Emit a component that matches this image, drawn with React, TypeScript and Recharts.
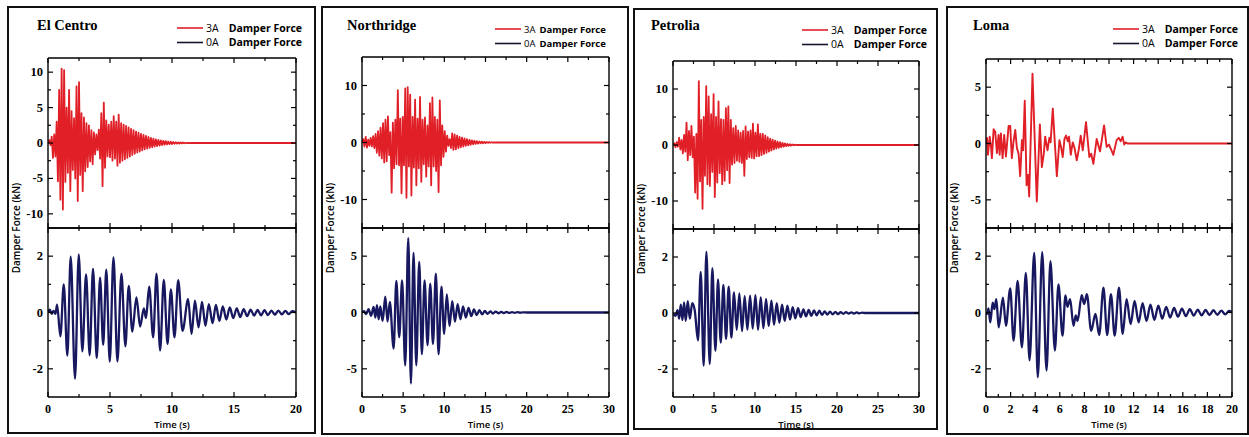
import React from 'react';
import { LineChart, Line, XAxis, YAxis } from 'recharts';

const SERIF = '"Liberation Serif", "Times New Roman", serif';
const SANS = '"Open Sans", "Liberation Sans", Arial, sans-serif';
const RED = '#e01f27';
const NAVY = '#17185f';
const LEGEND_DARK = '#14142e';

// Sampling step (s) of the dense 3A records
const elCentroStep = 0.1;
const northridgeStep = 0.15;
const petroliaStep = 0.15;

// 3A damper force, kN
const elCentro3A = [
  0, 0.4, -0.3, 0.9, -2.1, 1.2, -1.9, 3.0, -5.4, 7.5,
  -8.0, 10.5, -9.4, 10.3, -5.5, 5.0, -4.2, 7.5, -6.8, 4.5,
  -3.8, 3.5, -5.0, 8.0, -8.2, 8.6, -4.5, 4.2, -6.8, 3.6,
  -4.0, 2.8, -3.4, 2.5, -2.6, 1.8, -3.0, 1.5, -1.6, 1.2,
  -1.0, 1.9, -2.2, 4.2, -6.1, 5.7, -3.5, 3.2, -1.9, 2.6,
  -2.0, 3.0, -2.5, 3.8, -2.2, 3.0, -3.2, 4.0, -2.8, 2.8,
  -2.5, 2.6, -2.3, 2.4, -2.1, 2.2, -1.9, 2.0, -1.7, 1.8,
  -1.5, 1.6, -1.35, 1.45, -1.2, 1.3, -1.05, 1.15, -0.9, 1.0,
  -0.8, 0.85, -0.7, 0.72, -0.6, 0.62, -0.5, 0.52, -0.42, 0.44,
  -0.36, 0.37, -0.3, 0.31, -0.25, 0.26, -0.2, 0.21, -0.17, 0.17,
  -0.14, 0.14, -0.11, 0.11, -0.09, 0.09, -0.07, 0.07, -0.05, 0.05,
  -0.04, 0.04, -0.03, 0.03, -0.02, 0.02, 0,
];

const northridge3A = [
  0, 0.6, -0.7, 1.0, -0.9, 0.5, -0.6, 0.8, -0.7, 1.1,
  -1.0, 1.5, -1.8, 2.0, -2.3, 2.6, -2.8, 3.4, -3.5, 4.0,
  -3.3, 4.6, -2.2, 1.8, -8.8, 3.5, -4.5, 4.0, -3.8, 9.2,
  -4.0, 4.2, -8.9, 4.5, -4.0, 9.5, -9.7, 9.7, -4.2, 8.4,
  -9.3, 4.5, -4.4, 7.5, -7.5, 4.2, -4.5, 8.0, -6.9, 4.0,
  -3.8, 4.4, -6.0, 3.0, -4.2, 6.9, -7.5, 7.9, -4.2, 4.5,
  -5.0, 4.0, -8.7, 7.4, -4.0, 3.0, -2.5, 2.0, -1.6, 1.2,
  -0.6, 0.6, -1.0, 1.6, -1.3, 1.4, -1.2, 1.2, -1.0, 1.0,
  -0.85, 0.85, -0.7, 0.7, -0.6, 0.58, -0.48, 0.47, -0.4, 0.38,
  -0.32, 0.3, -0.25, 0.24, -0.2, 0.19, -0.15, 0.15, -0.12, 0.11,
  -0.09, 0.08, -0.06, 0.06, -0.04, 0.04, -0.02, 0.02, 0,
];

const petrolia3A = [
  0, 0.3, -0.4, 0.5, -0.3, 1.3, -0.8, 0.9, -1.5, 1.8,
  -1.2, 4.0, -2.7, 2.5, -1.8, 3.4, -2.2, 1.5, -8.5, 2.0,
  -9.6, 11.4, -6.5, 4.5, -11.4, 5.0, -5.5, 10.5, -7.0, 8.7,
  -7.3, 5.5, -4.8, 9.1, -9.3, 5.0, -6.7, 7.8, -5.0, 4.6,
  -7.0, 4.5, -6.4, 6.6, -4.5, 6.9, -6.8, 4.5, -3.5, 3.0,
  -3.2, 3.4, -2.8, 2.6, -3.0, 2.2, -3.2, 2.5, -5.5, 3.3,
  -2.5, 2.4, -2.2, 2.6, -2.3, 3.8, -2.4, 2.2, -2.0, 3.7,
  -2.0, 2.0, -1.8, 2.0, -1.6, 1.7, -1.4, 1.4, -1.2, 1.15,
  -1.0, 0.95, -0.8, 0.78, -0.65, 0.62, -0.52, 0.5, -0.4, 0.38,
  -0.3, 0.28, -0.22, 0.2, -0.15, 0.14, -0.1, 0.09, -0.06, 0.05,
  -0.03, 0.02, 0,
];

// [time s, force kN]
const loma3A: [number, number][] = [
  [0, 0], [0.08, 0.5], [0.16, -1.0], [0.3, 0.6], [0.4, -0.2], [0.48, -1.3], [0.62, 1.26], [0.75, 1.05],
  [0.89, -0.85], [1.02, 0.75], [1.11, -1.0], [1.21, 0.9], [1.35, -1.3], [1.48, 0.76], [1.62, -1.15],
  [1.84, 1.56], [1.97, 1.56], [2.1, -1.3], [2.24, 0.2], [2.38, 1.2], [2.51, -0.4], [2.65, -0.9],
  [2.78, -2.9], [2.92, 0.3], [3.02, -0.6], [3.15, 3.8], [3.3, -3.7], [3.42, -2.8], [3.51, -4.7],
  [3.78, 6.2], [4.13, -5.15], [4.38, 1.7], [4.54, -2.1], [4.7, -0.9], [4.81, 0.6], [5.0, -0.6],
  [5.15, 0.5], [5.25, 0.1], [5.43, 3.1], [5.76, -2.9], [5.97, 0.3], [6.1, -0.3], [6.24, -1.2],
  [6.38, 0.4], [6.51, 0.7], [6.65, 0.2], [6.75, 0.6], [6.89, -1.0], [7.05, 0.1], [7.2, -0.4],
  [7.38, -1.5], [7.55, -0.5], [7.7, 0.7], [7.87, -0.6], [8.13, 1.9], [8.4, -1.2], [8.55, -0.9],
  [8.73, -1.8], [9.0, 0.4], [9.27, -0.7], [9.6, 1.6], [9.81, -0.3], [10.0, -0.1], [10.2, -0.6],
  [10.35, -1.0], [10.62, 0.3], [10.8, 0.5], [10.95, 0.2], [11.1, 0.6], [11.24, -0.1], [11.35, 0.1],
  [11.5, 0], [20, 0],
];

// 0A damper force, [time s, force kN] at the turning points
const elCentro0A: [number, number][] = [
  [0, 0], [0.15, 0.1], [0.3, -0.05], [0.45, 0.06], [0.6, -0.05], [0.73, 0.28], [1.0, -0.85], [1.27, 1.0],
  [1.56, -1.53], [1.83, 1.98], [2.18, -2.35], [2.48, 2.06], [2.77, -1.38], [3.07, 1.35], [3.36, -1.52],
  [3.63, 1.56], [3.93, -1.62], [4.2, 1.24], [4.45, -1.15], [4.7, 1.52], [4.98, -1.74], [5.28, 1.96],
  [5.6, -1.74], [5.92, 1.38], [6.24, -1.2], [6.51, 0.94], [6.8, -0.68], [7.13, 0.54], [7.43, -0.5],
  [7.73, 0.15], [7.9, -0.2], [8.16, 0.92], [8.48, -0.88], [8.75, 1.38], [9.04, -1.35], [9.34, 1.16],
  [9.64, -1.12], [9.91, 0.82], [10.2, -0.88], [10.5, 1.15], [10.85, -0.65], [11.3, 0.47], [11.58, -0.76],
  [11.85, 0.42], [12.14, -0.53], [12.42, 0.38], [12.7, -0.47], [12.97, 0.3], [13.27, -0.38], [13.54, 0.27],
  [13.82, -0.3], [14.1, 0.22], [14.38, -0.25], [14.66, 0.18], [14.94, -0.2], [15.22, 0.15], [15.5, -0.16],
  [15.78, 0.12], [16.06, -0.13], [16.34, 0.1], [16.62, -0.11], [16.9, 0.09], [17.18, -0.1], [17.46, 0.08],
  [17.74, -0.09], [18.02, 0.07], [18.3, -0.08], [18.58, 0.07], [18.86, -0.07], [19.14, 0.06], [19.42, -0.06],
  [19.7, 0.05], [20, 0],
];

const northridge0A: [number, number][] = [
  [0, 0], [0.25, 0.12], [0.5, -0.15], [0.8, 0.3], [1.1, -0.3], [1.41, 0.5], [1.62, -0.45], [1.82, 0.65],
  [2.02, -0.6], [2.22, 0.55], [2.5, -0.75], [2.83, 1.4], [3.1, -0.8], [3.38, 0.95], [3.84, -3.2],
  [4.17, 2.8], [4.52, -2.2], [4.87, 2.85], [5.25, -4.7], [5.62, 6.6], [5.94, -6.3], [6.26, 5.3],
  [6.59, -4.7], [6.95, 4.5], [7.27, -3.7], [7.6, 2.85], [7.96, -2.9], [8.29, 2.55], [8.62, -2.8],
  [8.97, 3.45], [9.3, -3.7], [9.65, 2.3], [9.98, -1.9], [10.3, 1.6], [10.63, -1.2], [10.96, 1.0],
  [11.29, -0.8], [11.62, 0.75], [11.95, -0.6], [12.28, 0.55], [12.61, -0.45], [12.94, 0.4], [13.27, -0.33],
  [13.6, 0.28], [13.93, -0.24], [14.26, 0.2], [14.59, -0.17], [14.92, 0.14], [15.25, -0.12], [15.58, 0.1],
  [15.91, -0.09], [16.24, 0.08], [16.57, -0.07], [16.9, 0.06], [17.23, -0.05], [17.56, 0.05], [17.89, -0.04],
  [18.22, 0.04], [18.55, -0.03], [18.88, 0.03], [19.21, -0.02], [19.54, 0.02], [20, 0], [30, 0],
];

const petrolia0A: [number, number][] = [
  [0, 0], [0.3, -0.1], [0.55, 0.1], [0.75, -0.2], [0.95, 0.3], [1.15, -0.25], [1.35, 0.38], [1.55, -0.28],
  [1.8, 0.42], [2.05, -0.2], [2.35, 0.35], [2.65, 0.1], [3.05, -0.98], [3.38, 1.47], [3.74, -1.88],
  [4.07, 2.18], [4.48, -1.82], [4.8, 1.6], [5.17, -1.35], [5.49, 1.2], [5.82, -1.06], [6.14, 1.0],
  [6.47, -0.92], [6.79, 0.94], [7.12, -0.88], [7.44, 0.74], [7.77, -0.6], [8.09, 0.7], [8.42, -0.65],
  [8.74, 0.6], [9.07, -0.59], [9.4, 0.62], [9.72, -0.56], [10.05, 0.64], [10.37, -0.6], [10.7, 0.56],
  [11.02, -0.54], [11.35, 0.5], [11.67, -0.47], [12.0, 0.44], [12.32, -0.42], [12.65, 0.35], [12.97, -0.35],
  [13.3, 0.3], [13.62, -0.28], [13.95, 0.26], [14.27, -0.23], [14.6, 0.21], [14.92, -0.19], [15.25, 0.17],
  [15.57, -0.15], [15.9, 0.13], [16.22, -0.12], [16.55, 0.11], [16.87, -0.1], [17.2, 0.09], [17.52, -0.08],
  [17.85, 0.08], [18.17, -0.07], [18.5, 0.06], [18.82, -0.06], [19.15, 0.05], [19.47, -0.05], [19.8, 0.04],
  [20.12, -0.04], [20.45, 0.03], [20.77, -0.03], [21.1, 0.03], [21.42, -0.02], [21.75, 0.02], [22.07, -0.02],
  [22.4, 0.02], [22.72, -0.01], [23.05, 0.01], [23.4, 0], [30, 0],
];

const loma0A: [number, number][] = [
  [0, 0], [0.1, -0.05], [0.2, 0.15], [0.35, -0.35], [0.54, 0.35], [0.68, 0.12], [0.84, 0.47], [1.03, -0.53],
  [1.38, 0.53], [1.62, -0.47], [1.97, 0.86], [2.24, -1.0], [2.57, 1.12], [2.92, -1.24], [3.24, 1.41],
  [3.54, -1.7], [3.92, 2.12], [4.21, -2.3], [4.57, 2.14], [4.92, -2.06], [5.24, 1.82], [5.6, -1.35],
  [5.89, 1.0], [6.22, -0.82], [6.46, 0.61], [6.62, 0.2], [6.84, 0.47], [7.11, -0.47], [7.3, -0.1],
  [7.45, -0.3], [7.78, 0.62], [7.98, 0.3], [8.2, 0.65], [8.55, -0.65], [8.9, -0.05], [9.2, -0.8],
  [9.55, 0.88], [9.85, -0.8], [10.16, 0.65], [10.46, -0.82], [10.81, 0.88], [11.11, -0.76], [11.43, 0.47],
  [11.76, -0.41], [12.08, 0.41], [12.41, -0.35], [12.73, 0.33], [13.05, -0.3], [13.37, 0.28], [13.69, -0.26],
  [14.01, 0.24], [14.33, -0.22], [14.65, 0.2], [14.97, -0.18], [15.29, 0.16], [15.61, -0.15], [15.93, 0.14],
  [16.25, -0.13], [16.57, 0.12], [16.89, -0.11], [17.21, 0.1], [17.53, -0.1], [17.85, 0.09], [18.17, -0.09],
  [18.49, 0.08], [18.81, -0.08], [19.13, 0.07], [19.45, -0.07], [19.77, 0.06], [20, 0],
];

// axis ticks
const time20Ticks = [0, 2.5, 5, 7.5, 10, 12.5, 15, 17.5, 20];
const time30Ticks = [0, 2.5, 5, 7.5, 10, 12.5, 15, 17.5, 20, 22.5, 25, 27.5, 30];
const lomaTimeTicks = [0, 1, 2, 3, 4, 5, 6, 7, 8, 9, 10, 11, 12, 13, 14, 15, 16, 17, 18, 19, 20];
const force12Ticks = [-10, -7.5, -5, -2.5, 0, 2.5, 5, 7.5, 10];
const force15Ticks = [-10, -5, 0, 5, 10];
const force7Ticks = [-5, -2.5, 0, 2.5, 5];
const force3Ticks = [-2, -1, 0, 1, 2];

type Pt = { t: number; v: number };

const sampled = (step: number, values: number[], end: number): Pt[] => {
  const pts = values.map((v, i) => ({ t: Math.round(i * step * 1000) / 1000, v }));
  pts.push({ t: end, v: 0 });
  return pts;
};
const fromPairs = (pairs: [number, number][]): Pt[] => pairs.map(([t, v]) => ({ t, v }));

const isMajor = (v: number, step: number) => Math.abs(v / step - Math.round(v / step)) < 1e-6;

const AXIS_LINE = { stroke: '#000', strokeWidth: 1.4 };

const makeXTick = (inward: number, major: number, labels: boolean) => (p: any) => {
  const { x, y, payload } = p;
  const m = isMajor(payload.value, major);
  return (
    <g>
      <line x1={x} x2={x} y1={y} y2={y + inward * (m ? 5 : 3)} stroke="#000" strokeWidth={1.2} />
      {labels && m && (
        <text x={x} y={y + 15.5} textAnchor="middle" fontFamily={SERIF} fontWeight="bold" fontSize={12} fill="#000">
          {String(payload.value)}
        </text>
      )}
    </g>
  );
};

const makeYTick = (inward: number, major: number, labels: boolean) => (p: any) => {
  const { x, y, payload } = p;
  const m = isMajor(payload.value, major);
  return (
    <g>
      <line x1={x} x2={x + inward * (m ? 5 : 3)} y1={y} y2={y} stroke="#000" strokeWidth={1.2} />
      {labels && m && (
        <text x={x - 5} y={y + 4} textAnchor="end" fontFamily={SERIF} fontWeight="bold" fontSize={12.5} fill="#000">
          {String(payload.value)}
        </text>
      )}
    </g>
  );
};

// room around each plot box; every axis takes 1px of it
const PAD = { top: 6, right: 6, bottom: 26, left: 36 };
const AX = 1;
const MARGIN = { top: PAD.top - AX, right: PAD.right - AX, bottom: PAD.bottom - AX, left: PAD.left - AX };

type SubplotProps = {
  x: number; y: number; w: number; h: number;
  data: Pt[]; color: string; width: number; curve: 'linear' | 'monotone';
  xDomain: [number, number]; xTicks: number[]; xMajor: number; xLabels: boolean;
  yDomain: [number, number]; yTicks: number[]; yMajor: number;
};

function Subplot(p: SubplotProps) {
  return (
    <div style={{ position: 'absolute', left: p.x - PAD.left, top: p.y - PAD.top }}>
      <LineChart width={p.w + PAD.left + PAD.right} height={p.h + PAD.top + PAD.bottom} data={p.data} margin={MARGIN}>
        <XAxis xAxisId="b" orientation="bottom" type="number" dataKey="t" domain={p.xDomain} allowDataOverflow
          ticks={p.xTicks} interval={0} height={AX} tickSize={0} tickMargin={0} tickLine={false}
          axisLine={AXIS_LINE} tick={makeXTick(-1, p.xMajor, p.xLabels)} />
        <XAxis xAxisId="t" orientation="top" type="number" dataKey="t" domain={p.xDomain} allowDataOverflow
          ticks={p.xTicks} interval={0} height={AX} tickSize={0} tickMargin={0} tickLine={false}
          axisLine={AXIS_LINE} tick={makeXTick(1, p.xMajor, false)} />
        <YAxis yAxisId="l" orientation="left" type="number" domain={p.yDomain} allowDataOverflow
          ticks={p.yTicks} interval={0} width={AX} tickSize={0} tickMargin={0} tickLine={false}
          axisLine={AXIS_LINE} tick={makeYTick(1, p.yMajor, true)} />
        <YAxis yAxisId="r" orientation="right" type="number" domain={p.yDomain} allowDataOverflow
          ticks={p.yTicks} interval={0} width={AX} tickSize={0} tickMargin={0} tickLine={false}
          axisLine={AXIS_LINE} tick={makeYTick(-1, p.yMajor, false)} />
        <Line xAxisId="b" yAxisId="l" dataKey="v" type={p.curve} stroke={p.color} strokeWidth={p.width}
          strokeLinejoin="round" dot={false} activeDot={false} isAnimationActive={false} />
      </LineChart>
    </div>
  );
}

type Panel = {
  title: string; frame: [number, number, number, number];
  x0: number; x1: number; yTop: number; yMid: number; yBot: number;
  titleX: number; legendX: number; legendY: number; legendGap: number; legendSize: number;
  xDomain: [number, number]; xTicks: number[]; xMajor: number;
  red: Pt[]; redWidth: number; redDomain: [number, number]; redTicks: number[]; redMajor: number;
  navy: Pt[]; navyDomain: [number, number]; navyTicks: number[]; navyMajor: number;
};

const panels: Panel[] = [
  {
    title: 'El Centro', frame: [8, 7, 315, 433], x0: 48, x1: 296, yTop: 58, yMid: 228, yBot: 397,
    titleX: 37, legendX: 177, legendY: 28, legendGap: 10, legendSize: 10.5,
    xDomain: [0, 20], xTicks: time20Ticks, xMajor: 5,
    red: sampled(elCentroStep, elCentro3A, 20), redWidth: 1.8, redDomain: [-12, 12], redTicks: force12Ticks, redMajor: 5,
    navy: fromPairs(elCentro0A), navyDomain: [-3, 3], navyTicks: force3Ticks, navyMajor: 2,
  },
  {
    title: 'Northridge', frame: [322, 7, 628, 434], x0: 362, x1: 609, yTop: 57, yMid: 228, yBot: 397,
    titleX: 347, legendX: 495, legendY: 29, legendGap: 4, legendSize: 9.5,
    xDomain: [0, 30], xTicks: time30Ticks, xMajor: 5,
    red: sampled(northridgeStep, northridge3A, 30), redWidth: 1.8, redDomain: [-15, 15], redTicks: force15Ticks, redMajor: 10,
    navy: fromPairs(northridge0A), navyDomain: [-7.5, 7.5], navyTicks: force7Ticks, navyMajor: 5,
  },
  {
    title: 'Petrolia', frame: [634, 9, 937, 429], x0: 673, x1: 919, yTop: 61, yMid: 229, yBot: 397,
    titleX: 651, legendX: 802, legendY: 30, legendGap: 10, legendSize: 10.5,
    xDomain: [0, 30], xTicks: time30Ticks, xMajor: 5,
    red: sampled(petroliaStep, petrolia3A, 30), redWidth: 1.8, redDomain: [-15, 15], redTicks: force15Ticks, redMajor: 10,
    navy: fromPairs(petrolia0A), navyDomain: [-3, 3], navyTicks: force3Ticks, navyMajor: 2,
  },
  {
    title: 'Loma', frame: [947, 7, 1248, 434], x0: 986, x1: 1232, yTop: 59, yMid: 228, yBot: 397,
    titleX: 973, legendX: 1113, legendY: 29, legendGap: 10, legendSize: 10.5,
    xDomain: [0, 20], xTicks: lomaTimeTicks, xMajor: 2,
    red: fromPairs(loma3A), redWidth: 1.9, redDomain: [-7.5, 7.5], redTicks: force7Ticks, redMajor: 5,
    navy: fromPairs(loma0A), navyDomain: [-3, 3], navyTicks: force3Ticks, navyMajor: 2,
  },
];

const legendRows = [
  { code: '3A', color: RED },
  { code: '0A', color: LEGEND_DARK },
];

function PanelText({ p }: { p: Panel }) {
  const cx = (p.x0 + p.x1) / 2;
  const lx = p.x0 - 32;
  return (
    <g>
      <rect x={p.frame[0]} y={p.frame[1]} width={p.frame[2] - p.frame[0]} height={p.frame[3] - p.frame[1]}
        fill="none" stroke="#111" strokeWidth={2} />
      <text x={p.titleX} y={30} fontFamily={SERIF} fontWeight="bold" fontSize={14.5} fill="#000">{p.title}</text>
      {legendRows.map((r, i) => {
        const y = p.legendY + i * 14.5;
        return (
          <g key={r.code}>
            <line x1={p.legendX} x2={p.legendX + 26} y1={y} y2={y} stroke={r.color} strokeWidth={1.6} />
            <text x={p.legendX + 29} y={y + 3.8} fontFamily={SANS} fontSize={p.legendSize} fill="#000">
              <tspan>{r.code}</tspan>
              <tspan dx={p.legendGap} fontWeight={700}>Damper Force</tspan>
            </text>
          </g>
        );
      })}
      <text x={cx} y={428} textAnchor="middle" fontFamily={SANS} fontWeight={600} fontSize={9.5} fill="#000">Time (s)</text>
      <text x={lx} y={p.yMid} transform={`rotate(-90 ${lx} ${p.yMid})`} textAnchor="middle" dominantBaseline="central"
        fontFamily={SANS} fontWeight={600} fontSize={10} fill="#000">Damper Force (kN)</text>
    </g>
  );
}

export default function App() {
  return (
    <div style={{ position: 'absolute', left: 0, top: 0, width: 1249, height: 437, background: '#fff', overflow: 'hidden' }}>
      {panels.map((p) => (
        <React.Fragment key={p.title}>
          <Subplot x={p.x0} y={p.yTop} w={p.x1 - p.x0} h={p.yMid - p.yTop} data={p.red} color={RED}
            width={p.redWidth}
            curve="linear" xDomain={p.xDomain} xTicks={p.xTicks} xMajor={p.xMajor} xLabels={false}
            yDomain={p.redDomain} yTicks={p.redTicks} yMajor={p.redMajor} />
          <Subplot x={p.x0} y={p.yMid} w={p.x1 - p.x0} h={p.yBot - p.yMid} data={p.navy} color={NAVY} width={2.3}
            curve="monotone" xDomain={p.xDomain} xTicks={p.xTicks} xMajor={p.xMajor} xLabels={true}
            yDomain={p.navyDomain} yTicks={p.navyTicks} yMajor={p.navyMajor} />
        </React.Fragment>
      ))}
      <svg width={1249} height={437} style={{ position: 'absolute', left: 0, top: 0, pointerEvents: 'none' }}>
        {panels.map((p) => <PanelText key={p.title} p={p} />)}
      </svg>
    </div>
  );
}
